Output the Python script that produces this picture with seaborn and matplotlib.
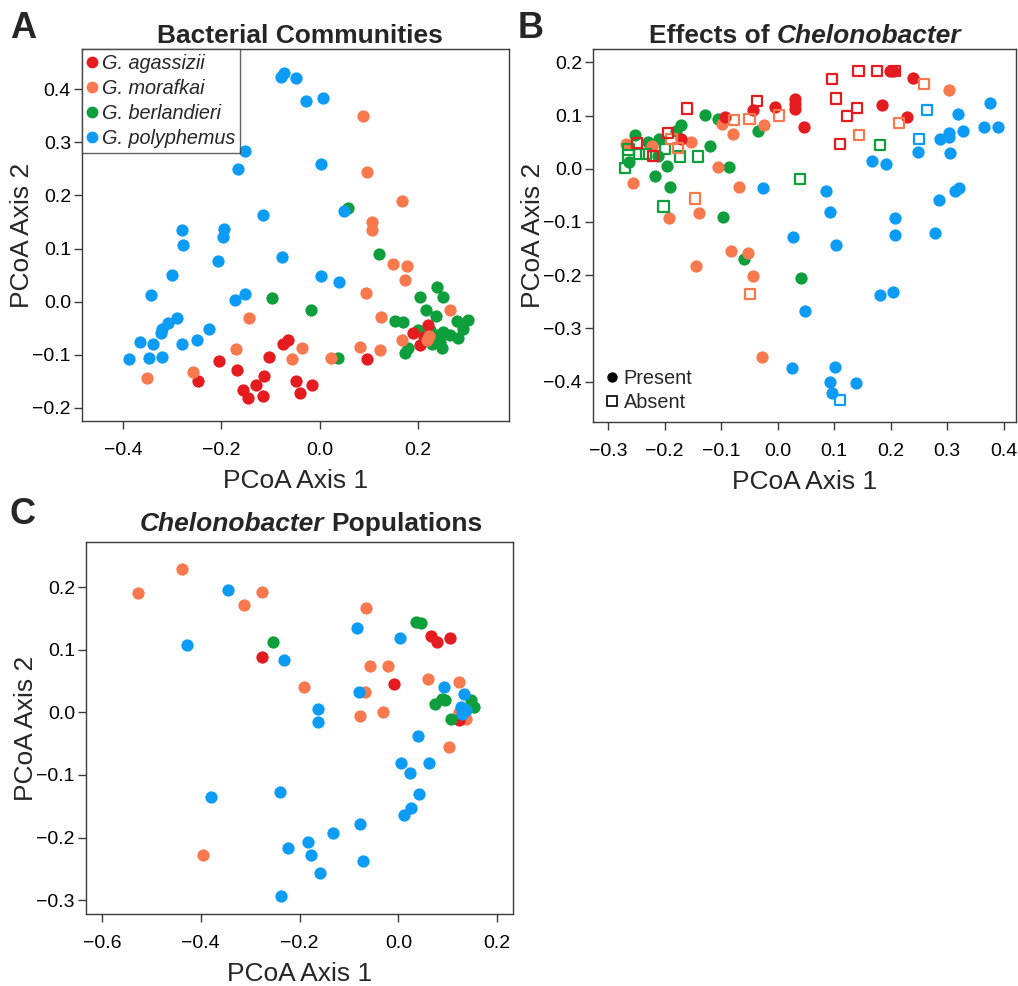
import matplotlib
matplotlib.use("Agg")
import matplotlib.pyplot as plt
from matplotlib.lines import Line2D
import seaborn as sns
import pandas as pd

# ---------------- data ----------------
species = ["G. agassizii", "G. morafkai", "G. berlandieri", "G. polyphemus"]
colors = {"G. agassizii": "#E41B1F", "G. morafkai": "#F9794F",
          "G. berlandieri": "#0E9E3B", "G. polyphemus": "#0C9BF5"}

# Panel A - Bacterial communities
a_agassizii_x = [-0.205, -0.167, -0.247, -0.102, -0.074, -0.064, -0.129, -0.113, -0.156, -0.146,
                 -0.115, -0.048, -0.039, -0.016, 0.097, 0.190, 0.204, 0.221, 0.212]
a_agassizii_y = [-0.112, -0.128, -0.150, -0.105, -0.080, -0.073, -0.158, -0.141, -0.166, -0.182,
                 -0.178, -0.150, -0.173, -0.158, -0.109, -0.060, -0.082, -0.044, -0.066]
a_morafkai_x = [0.089, 0.097, 0.168, 0.107, 0.107, 0.150, 0.178, 0.174, 0.094, 0.266, 0.124, -0.144,
                0.167, 0.218, 0.222, -0.169, -0.036, -0.056, 0.023, 0.082, 0.122, -0.257, -0.350]
a_morafkai_y = [0.349, 0.244, 0.190, 0.150, 0.135, 0.071, 0.067, 0.041, 0.017, -0.016, -0.029, -0.031,
                -0.072, -0.072, -0.064, -0.090, -0.088, -0.109, -0.107, -0.086, -0.092, -0.133, -0.144]
a_berlandieri_x = [0.057, 0.121, -0.096, -0.018, 0.038, 0.238, 0.204, 0.251, 0.216, 0.237, 0.153, 0.169,
                   0.279, 0.302, 0.292, 0.200, 0.251, 0.265, 0.241, 0.224, 0.282, 0.245, 0.228, 0.248,
                   0.180, 0.174]
a_berlandieri_y = [0.177, 0.089, 0.007, -0.016, -0.106, 0.027, 0.008, 0.008, -0.015, -0.027, -0.037, -0.039,
                   -0.037, -0.035, -0.052, -0.054, -0.057, -0.063, -0.063, -0.054, -0.069, -0.076, -0.079,
                   -0.088, -0.088, -0.096]
a_polyphemus_x = [-0.079, -0.072, -0.049, -0.028, 0.007, -0.152, -0.165, 0.003, -0.115, 0.049, -0.280,
                  -0.278, -0.195, -0.196, -0.206, -0.076, -0.300, 0.003, 0.039, -0.342, -0.151, -0.172,
                  -0.289, -0.308, -0.321, -0.323, -0.225, -0.250, -0.280, -0.338, -0.365, -0.388, -0.347,
                  -0.321]
a_polyphemus_y = [0.424, 0.430, 0.422, 0.378, 0.383, 0.283, 0.249, 0.260, 0.164, 0.171, 0.134, 0.107,
                  0.137, 0.121, 0.077, 0.084, 0.050, 0.048, 0.036, 0.013, 0.014, 0.003, -0.031, -0.040,
                  -0.052, -0.060, -0.052, -0.072, -0.080, -0.079, -0.077, -0.108, -0.107, -0.104]

# Panel B - Effects of Chelonobacter (present = filled, absent = open)
b_agassizii_present_x = [-0.093, -0.043, -0.004, 0.030, 0.030, 0.030, 0.047, -0.171, 0.185, 0.199, 0.205, 0.240, 0.229]
b_agassizii_present_y = [0.097, 0.111, 0.116, 0.131, 0.122, 0.113, 0.078, 0.056, 0.119, 0.183, 0.183, 0.170, 0.098]
b_agassizii_absent_x = [-0.161, -0.194, -0.036, 0.096, 0.103, 0.143, 0.176, 0.207, 0.123, 0.140, 0.110, -0.249, -0.221]
b_agassizii_absent_y = [0.113, 0.067, 0.127, 0.169, 0.132, 0.183, 0.183, 0.183, 0.099, 0.114, 0.046, 0.049, 0.024]
b_morafkai_present_x = [0.304, -0.025, -0.099, -0.079, -0.154, -0.269, -0.223, -0.105, -0.256, -0.069, -0.192,
                        -0.140, -0.083, -0.053, -0.144, -0.043, -0.027]
b_morafkai_present_y = [0.148, 0.083, 0.084, 0.066, 0.051, 0.047, 0.043, 0.004, -0.027, -0.034, -0.092,
                        -0.083, -0.154, -0.158, -0.182, -0.201, -0.353]
b_morafkai_absent_x = [0.259, 0.215, 0.144, 0.002, -0.050, -0.078, -0.146, -0.049, -0.188, -0.177]
b_morafkai_absent_y = [0.159, 0.086, 0.064, 0.100, 0.093, 0.091, -0.056, -0.235, 0.056, 0.039]
b_berlandieri_present_x = [-0.128, -0.106, -0.172, -0.180, -0.035, -0.120, -0.087, -0.217, -0.191, -0.096,
                           -0.060, 0.042, -0.252, -0.211, -0.196, -0.264, -0.229, -0.212]
b_berlandieri_present_y = [0.101, 0.094, 0.083, 0.071, 0.070, 0.042, 0.003, -0.013, -0.035, -0.091,
                           -0.170, -0.205, 0.064, 0.056, 0.006, 0.012, 0.051, 0.023]
b_berlandieri_absent_x = [0.039, 0.181, -0.202, -0.173, -0.141, -0.270, -0.264, -0.264, -0.246, -0.233, -0.200]
b_berlandieri_absent_y = [-0.019, 0.044, -0.071, 0.023, 0.023, 0.002, 0.036, 0.025, 0.028, 0.028, 0.037]
b_polyphemus_present_x = [-0.026, 0.027, 0.048, 0.025, 0.085, 0.092, 0.103, 0.101, 0.092, 0.097, 0.139, 0.167,
                          0.192, 0.181, 0.205, 0.208, 0.207, 0.248, 0.279, 0.286, 0.288, 0.304, 0.304, 0.306,
                          0.320, 0.329, 0.314, 0.321, 0.365, 0.376, 0.391]
b_polyphemus_present_y = [-0.036, -0.128, -0.267, -0.375, -0.041, -0.081, -0.143, -0.373, -0.401, -0.421, -0.402,
                          0.014, 0.008, -0.237, -0.232, -0.093, -0.125, 0.032, -0.120, -0.058, 0.056, 0.068,
                          0.059, 0.029, 0.102, 0.070, -0.042, -0.037, 0.078, 0.123, 0.079]
b_polyphemus_absent_x = [0.265, 0.250, 0.111]
b_polyphemus_absent_y = [0.111, 0.056, -0.434]

# Panel C - Chelonobacter populations
c_agassizii_x = [-0.276, 0.066, 0.078, 0.104, -0.008, 0.122]
c_agassizii_y = [0.089, 0.122, 0.112, 0.118, 0.046, -0.012]
c_morafkai_x = [-0.526, -0.437, -0.312, -0.275, -0.065, -0.190, -0.057, -0.021, -0.067, -0.078, -0.032,
                0.060, 0.122, 0.102, -0.396, 0.136, 0.122]
c_morafkai_y = [0.190, 0.229, 0.171, 0.192, 0.167, 0.040, 0.074, 0.074, 0.033, -0.006, 0.001,
                0.054, 0.049, -0.055, -0.228, -0.011, 0.001]
c_berlandieri_x = [-0.254, 0.035, 0.046, 0.074, 0.089, 0.094, 0.106, 0.147, 0.153]
c_berlandieri_y = [0.112, 0.145, 0.142, 0.014, 0.021, 0.019, -0.011, 0.019, 0.009]
c_polyphemus_x = [-0.345, -0.428, -0.231, -0.084, 0.004, -0.162, -0.163, -0.080, 0.092, 0.133, 0.127, 0.131,
                  0.136, 0.129, 0.039, 0.005, 0.024, 0.063, 0.041, 0.026, 0.012, -0.078, -0.072, -0.133,
                  -0.183, -0.176, -0.223, -0.159, -0.240, -0.237, -0.379]
c_polyphemus_y = [0.196, 0.108, 0.083, 0.134, 0.118, 0.006, -0.016, 0.033, 0.040, 0.030, 0.009, 0.002,
                  0.004, -0.002, -0.037, -0.081, -0.097, -0.081, -0.131, -0.153, -0.164, -0.178, -0.238,
                  -0.193, -0.207, -0.227, -0.216, -0.257, -0.127, -0.293, -0.135]

# tick labels
a_xticks = [-0.4, -0.2, 0.0, 0.2]
a_xticklabels = ["\u22120.4", "\u22120.2", "0.0", "0.2"]
a_yticks = [-0.2, -0.1, 0.0, 0.1, 0.2, 0.3, 0.4]
a_yticklabels = ["\u22120.2", "\u22120.1", "0.0", "0.1", "0.2", "0.3", "0.4"]
b_xticks = [-0.3, -0.2, -0.1, 0.0, 0.1, 0.2, 0.3, 0.4]
b_xticklabels = ["\u22120.3", "\u22120.2", "\u22120.1", "0.0", "0.1", "0.2", "0.3", "0.4"]
b_yticks = [-0.4, -0.3, -0.2, -0.1, 0.0, 0.1, 0.2]
b_yticklabels = ["\u22120.4", "\u22120.3", "\u22120.2", "\u22120.1", "0.0", "0.1", "0.2"]
c_xticks = [-0.6, -0.4, -0.2, 0.0, 0.2]
c_xticklabels = ["\u22120.6", "\u22120.4", "\u22120.2", "0.0", "0.2"]
c_yticks = [-0.3, -0.2, -0.1, 0.0, 0.1, 0.2]
c_yticklabels = ["\u22120.3", "\u22120.2", "\u22120.1", "0.0", "0.1", "0.2"]

# ---------------- style ----------------
sns.set_style("white")
FONT = ["Liberation Sans", "DejaVu Sans"]
plt.rcParams["font.family"] = FONT
SPINE = "#3a3a3a"

W, H = 1018, 986
fig = plt.figure(figsize=(W / 100, H / 100), dpi=100)


def px_axes(l, t, r, b):
    return fig.add_axes([l / W, 1 - b / H, (r - l) / W, (b - t) / H])


axA = px_axes(82, 49, 509, 421)
axB = px_axes(593, 49, 1016, 422)
axC = px_axes(86, 542, 513, 914)

S_DOT = 78


def dots(ax, xs, ys, sp):
    df = pd.DataFrame({"x": xs, "y": ys})
    sns.scatterplot(data=df, x="x", y="y", ax=ax, color=colors[sp], s=S_DOT,
                    linewidth=0, legend=False)


def squares(ax, xs, ys, sp):
    df = pd.DataFrame({"x": xs, "y": ys})
    sns.scatterplot(data=df, x="x", y="y", ax=ax, marker="s", s=54,
                    facecolors="none", edgecolor=colors[sp], color=colors[sp],
                    linewidth=1.6, legend=False)


# Panel A
dots(axA, a_berlandieri_x, a_berlandieri_y, "G. berlandieri")
dots(axA, a_agassizii_x, a_agassizii_y, "G. agassizii")
dots(axA, a_morafkai_x, a_morafkai_y, "G. morafkai")
dots(axA, a_polyphemus_x, a_polyphemus_y, "G. polyphemus")

# Panel B
dots(axB, b_berlandieri_present_x, b_berlandieri_present_y, "G. berlandieri")
dots(axB, b_morafkai_present_x, b_morafkai_present_y, "G. morafkai")
dots(axB, b_agassizii_present_x, b_agassizii_present_y, "G. agassizii")
dots(axB, b_polyphemus_present_x, b_polyphemus_present_y, "G. polyphemus")
squares(axB, b_berlandieri_absent_x, b_berlandieri_absent_y, "G. berlandieri")
squares(axB, b_morafkai_absent_x, b_morafkai_absent_y, "G. morafkai")
squares(axB, b_agassizii_absent_x, b_agassizii_absent_y, "G. agassizii")
squares(axB, b_polyphemus_absent_x, b_polyphemus_absent_y, "G. polyphemus")

# Panel C
dots(axC, c_morafkai_x, c_morafkai_y, "G. morafkai")
dots(axC, c_agassizii_x, c_agassizii_y, "G. agassizii")
dots(axC, c_berlandieri_x, c_berlandieri_y, "G. berlandieri")
dots(axC, c_polyphemus_x, c_polyphemus_y, "G. polyphemus")


def style_axes(ax, xlim, ylim, xt, xtl, yt, ytl):
    ax.set_xlim(*xlim)
    ax.set_ylim(*ylim)
    ax.set_xticks(xt)
    ax.set_xticklabels(xtl)
    ax.set_yticks(yt)
    ax.set_yticklabels(ytl)
    for sp in ax.spines.values():
        sp.set_visible(True)
        sp.set_color(SPINE)
        sp.set_linewidth(1.0)
    ax.tick_params(axis="both", direction="out", length=6, width=1.0, color=SPINE,
                   labelsize=14, labelcolor="black", bottom=True, left=True)
    ax.tick_params(axis="x", pad=9)
    ax.tick_params(axis="y", pad=2)
    ax.set_xlabel("PCoA Axis 1", fontsize=19, labelpad=7)
    ax.set_ylabel("PCoA Axis 2", fontsize=19, labelpad=-1.5)
    ax.grid(False)


style_axes(axA, (-0.483, 0.385), (-0.225, 0.476), a_xticks, a_xticklabels, a_yticks, a_yticklabels)
style_axes(axB, (-0.327, 0.422), (-0.476, 0.225), b_xticks, b_xticklabels, b_yticks, b_yticklabels)
style_axes(axC, (-0.632, 0.232), (-0.322, 0.272), c_xticks, c_xticklabels, c_yticks, c_yticklabels)

# Legend A
handles = [Line2D([], [], linestyle="none", marker="o", markersize=8.5,
                  markerfacecolor=colors[s], markeredgewidth=0) for s in species]
legA = axA.legend(handles, species, loc="upper left", bbox_to_anchor=(0, 1),
                  borderaxespad=0, frameon=True, fancybox=False,
                  prop={"style": "italic", "size": 14.3, "family": FONT},
                  handlelength=0.55, handletextpad=0.2, labelspacing=0.3,
                  borderpad=0.25)
legA.get_frame().set_edgecolor(SPINE)
legA.get_frame().set_linewidth(1.0)

# Legend B
hB = [Line2D([], [], linestyle="none", marker="o", markersize=7.5, markerfacecolor="black",
             markeredgewidth=0),
      Line2D([], [], linestyle="none", marker="s", markersize=6.8, markerfacecolor="none",
             markeredgecolor="black", markeredgewidth=1.2)]
legB = axB.legend(hB, ["Present", "Absent"], loc="lower left", bbox_to_anchor=(-0.012, -0.02),
                  frameon=False, prop={"size": 14.3, "family": FONT},
                  handlelength=0.6, handletextpad=0.3, labelspacing=0.25)


# Titles (mixed bold / bold-italic)
def mixed_title(parts, cx_px, base_px, size=19):
    r = fig.canvas.get_renderer()
    texts = []
    for s, st in parts:
        t = fig.text(0, 0, s, fontsize=size, fontweight="bold", fontstyle=st,
                     family=FONT, va="baseline", ha="left")
        texts.append(t)
    widths = [t.get_window_extent(r).width for t in texts]
    gap = 0.28 * size * 100 / 72
    total = sum(widths) + gap * (len(texts) - 1)
    x = cx_px - total / 2
    for t, w in zip(texts, widths):
        t.set_position((x / W, 1 - base_px / H))
        x += w + gap


mixed_title([("Bacterial Communities", "normal")], 300, 43)
mixed_title([("Effects of", "normal"), ("Chelonobacter", "italic")], 805, 43)
mixed_title([("Chelonobacter", "italic"), ("Populations", "normal")], 311, 531)

# Panel letters
for lab, (x, y) in {"A": (23.5, 28), "B": (531, 28), "C": (22.5, 515)}.items():
    fig.text(x / W, 1 - y / H, lab, fontsize=26, fontweight="bold", ha="center", va="center",
             family=FONT)

fig.savefig("out.png", dpi=100)
